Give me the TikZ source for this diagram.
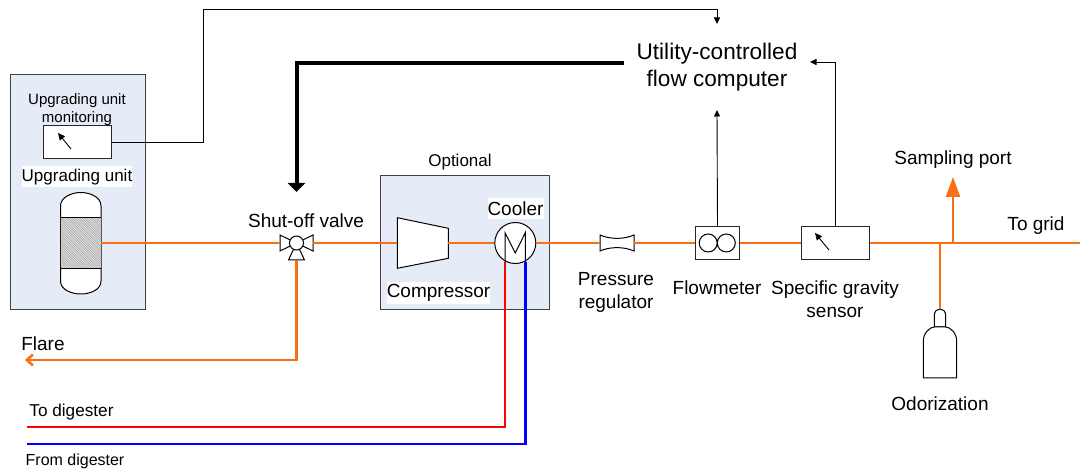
\documentclass[tikz,border=0pt]{standalone}
\usepackage{fontspec}
\setmainfont{Liberation Sans}
\usetikzlibrary{arrows.meta,calc}
\definecolor{boxfill}{HTML}{E6ECF7}
\definecolor{pipe}{HTML}{FA6E14}
\tikzset{
  unitbox/.style={draw=black!75,line width=1pt,fill=boxfill,rectangle,inner sep=0pt},
  whitebox/.style={draw=black!85,line width=1pt,fill=white,rectangle,inner sep=0pt},
  equip/.style={draw=black,line width=1pt,fill=white},
  pipeline/.style={draw=pipe,line width=2.6pt},
  signal/.style={draw=black,line width=0.9pt,-{Triangle[length=6.5pt,width=6pt]}},
  needle/.style={draw=black,line width=0.9pt,-{Triangle[length=7pt,width=6.5pt]}},
  lab/.style={align=center,inner sep=0pt,font=\fontsize{19}{23}\selectfont},
  smalllab/.style={align=center,inner sep=0pt,font=\fontsize{16.5}{18.5}\selectfont},
}
\begin{document}
\begin{tikzpicture}[x=1pt,y=-1pt]
\useasboundingbox (0,0) rectangle (1080,470);
% unit boxes
\node[unitbox,minimum width=135pt,minimum height=235pt] (upbox) at (77.5,192.5) {};
\node[unitbox,minimum width=168.5pt,minimum height=134pt] (optbox) at (464.75,243) {};
% monitor
\node[whitebox,minimum width=67.5pt,minimum height=33pt] (monitor) at (77.25,142.5) {};
\coordinate (mona) at (71,149); \coordinate (monb) at (58,133);
\draw[needle] (mona) -- (monb);
\node[smalllab,font=\fontsize{15}{18}\selectfont] (monlab) at (77,110) {Upgrading unit\\monitoring};
\node[smalllab,fill=white,inner xsep=0pt,minimum width=110pt,minimum height=21pt,font=\fontsize{17}{18.5}\selectfont] (uplab) at (77,177) {Upgrading unit};
% vessel
\draw[equip] (60.5,206) .. controls (60.5,197) and (72,192.5) .. (80.75,192.5)
  .. controls (90,192.5) and (101,197) .. (101,206) -- (101,281)
  .. controls (101,290) and (90,294) .. (80.75,294)
  .. controls (72,294) and (60.5,290) .. (60.5,281) -- cycle;
\begin{scope}
\clip (60.5,217.5) rectangle (101,268.5);
\fill[gray!20] (60.5,217.5) rectangle (101,268.5);
\foreach \k in {0,2.4,...,96}{\draw[black!35,line width=0.6pt] (60.5+\k-0,268.5-0) -- ++(-52,-52);}
\end{scope}
\draw[black,line width=1pt] (60.5,217.5) -- (101,217.5) (60.5,268.5) -- (101,268.5);
\coordinate (vesselout) at (101,243);
% valve
\coordinate (valveL) at (280,243); \coordinate (valveR) at (313,243); \coordinate (valveB) at (296.5,260);
\draw[equip] (280,235) -- (296.5,243) -- (280,251) -- cycle;
\draw[equip] (313,235) -- (296.5,243) -- (313,251) -- cycle;
\draw[equip] (296.5,243) -- (304.5,260) -- (288.5,260) -- cycle;
\node[equip,circle,minimum size=14pt,inner sep=0pt] (valve) at (296.5,243) {};
\node[lab] (valvelab) at (306,220.5) {Shut-off valve};
% compressor
\draw[equip] (397.3,217.7) -- (448.3,228.3) -- (448.3,258.3) -- (397.3,268.3) -- cycle;
\coordinate (compin) at (397.3,243); \coordinate (compout) at (448.3,243);
\node[lab,fill=white,minimum width=103pt,minimum height=22pt] (complab) at (438.5,293) {Compressor};
\node[smalllab,font=\fontsize{17}{18.5}\selectfont] (optlab) at (460,162) {Optional};
% cooler
\node[equip,circle,minimum size=41pt,inner sep=0pt] (cooler) at (515.3,243) {};
\coordinate (cooldn) at (505,262); \coordinate (coolup) at (525.3,262);
\draw[black,line width=1pt] (cooldn) -- (505,232.7) -- (515.3,253) -- (525.3,232.7) -- (coolup);
\node[lab,fill=white,minimum width=56pt,minimum height=21pt] (coollab) at (515.5,208.5) {Cooler};
% regulator
\draw[equip] (600,235) .. controls (610,239.5) and (624,239.5) .. (634,235) -- (634,251)
  .. controls (624,246.5) and (610,246.5) .. (600,251) -- cycle;
\coordinate (regL) at (600,243); \coordinate (regR) at (634,243);
\node[lab] (reglab) at (616,292) {Pressure\\regulator};
% flowmeter
\node[whitebox,minimum width=44pt,minimum height=33pt] (fm) at (717.5,243) {};
\draw[black,line width=1pt] (708.2,243) circle (9) (726.3,243) circle (9);
\node[lab] (fmlab) at (717,287.5) {Flowmeter};
% gravity sensor
\node[whitebox,minimum width=68pt,minimum height=33pt] (sg) at (835,243) {};
\coordinate (sga) at (829,250); \coordinate (sgb) at (815,233);
\draw[needle] (sga) -- (sgb);
\node[lab] (sglab) at (835,299) {Specific gravity\\sensor};
% odorization
\draw[equip] (934.3,327) -- (934.3,316) .. controls (934.3,311) and (937,309) .. (940,309)
  .. controls (943,309) and (945.7,311) .. (945.7,316) -- (945.7,327) -- cycle;
\draw[equip] (923.3,378) -- (923.3,341) .. controls (923.3,333) and (930,327) .. (934.3,327)
  -- (945.7,327) .. controls (950,327) and (956.7,333) .. (956.7,341) -- (956.7,378) -- cycle;
\coordinate (odor) at (940,309);
\node[lab] (odorlab) at (940,403.5) {Odorization};
% free ends and junctions
\coordinate (grid) at (1080,243);
\coordinate (jodor) at (940,243);
\coordinate (jport) at (953,243);
\coordinate (porttip) at (953,177);
\coordinate (flareend) at (25,360);
\coordinate (todig) at (27,427);
\coordinate (fromdig) at (27,444);
% flow computer
\node[align=center,inner ysep=0pt,inner xsep=12pt,font=\fontsize{22.6}{27}\selectfont] (flow) at (717,67.5) {Utility-controlled\\flow computer};
\coordinate (flowtop) at (717,24);
\coordinate (flowbot) at (717,110);
\coordinate (flowright) at (810,62);
% pipes
\draw[pipeline] (vesselout) -- (valveL);
\draw[pipeline] (valveR) -- (compin);
\draw[pipeline] (compout) -- (cooler);
\draw[pipeline] (cooler) -- (regL);
\draw[pipeline] (regR) -- (fm);
\draw[pipeline] (fm) -- (sg);
\draw[pipeline] (sg) -- (grid);
\draw[pipeline] (jodor) -- (odor);
\draw[pipeline,-{Triangle[length=20pt,width=14pt]}] (jport) -- (porttip);
\draw[pipeline,-{Straight Barb[length=6pt,width=11pt]}] (valveB) |- (flareend);
\draw[draw=red,line width=2.6pt] (cooldn) |- (todig);
\draw[draw=blue,line width=2.6pt] (coolup) |- (fromdig);
% signals
\draw[signal] (monitor.east) -| (203,9) -| (flowtop);
\draw[signal] (fm.north) -- (flowbot);
\draw[signal] (sg.north) |- (flowright);
\coordinate (valvein) at (296.5,192);
\draw[line width=4pt,-{Triangle[length=9pt,width=17pt]}] ([yshift=4.5pt]flow.west) -| (valvein);
% labels
\node[smalllab,font=\fontsize{17.2}{18.5}\selectfont] (dl1) at (71.5,412) {To digester};
\node[smalllab,font=\fontsize{16}{18.5}\selectfont] (dl2) at (75,461) {From digester};
\node[lab] (flarelab) at (43,344) {Flare};
\node[lab] (splab) at (953,160) {Sampling port};
\node[lab] (gridlab) at (1036,226) {To grid};
\end{tikzpicture}
\end{document}
